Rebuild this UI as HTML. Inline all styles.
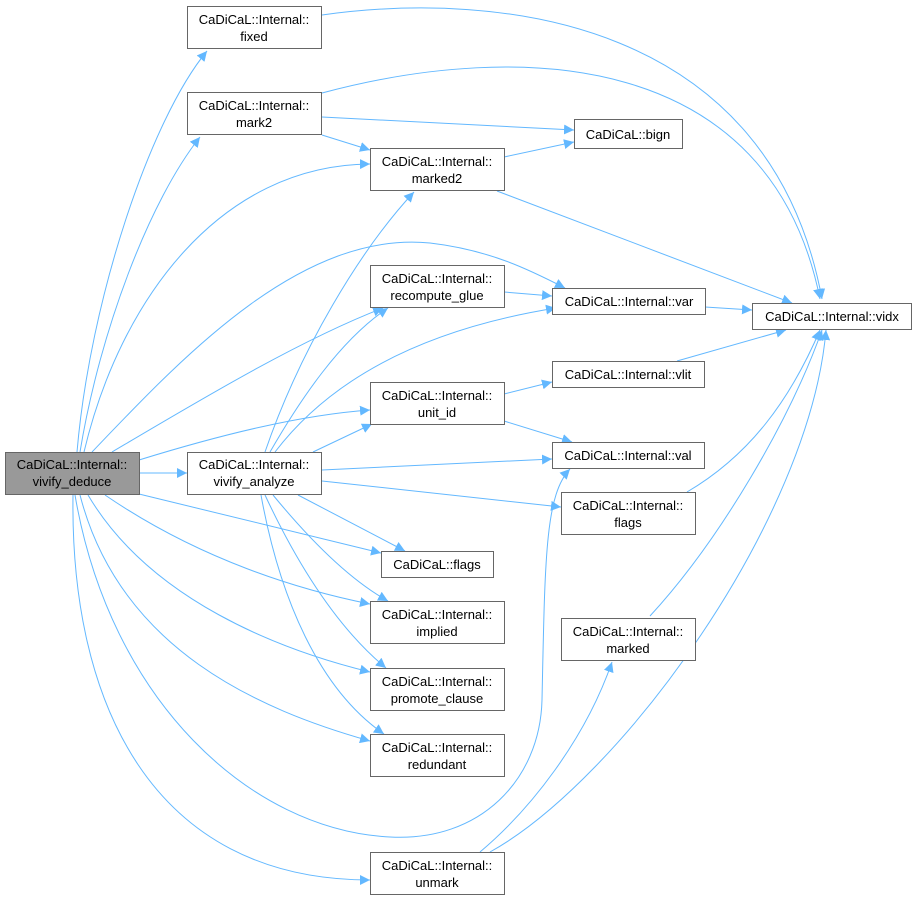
<!DOCTYPE html>
<html><head><meta charset="utf-8"><style>
html,body{margin:0;padding:0;background:#fff;}
svg{display:block}
text{font-family:"Liberation Sans",Helvetica,Arial,sans-serif;font-size:13px;fill:#000;text-anchor:middle}
.n{fill:#fff;stroke:#666;stroke-width:1}
.e{fill:none;stroke:#63b8ff;stroke-width:1;marker-end:url(#a)}
</style></head><body>
<svg width="916" height="900" viewBox="0 0 916 900" xmlns="http://www.w3.org/2000/svg">
<defs><marker id="a" viewBox="0 0 10 10" refX="10" refY="5" markerWidth="10" markerHeight="10" markerUnits="userSpaceOnUse" orient="auto"><path d="M0,0 L10,5 L0,10 z" fill="#63b8ff"/></marker></defs>

<path class="e" d="M77,452 C90,300 150,120 207,51"/>
<path class="e" d="M80,452 C100,330 150,200 200,137"/>
<path class="e" d="M84,452 C120,300 220,165 370,164"/>
<path class="e" d="M92,452 C180,360 300,230 430,243 C490,250 530,270 565,288"/>
<path class="e" d="M112,452 C200,400 300,340 383,308"/>
<path class="e" d="M139,460 C220,435 300,415 370,410"/>
<path class="e" d="M139,473 L187,473"/>
<path class="e" d="M139,494 L381,553"/>
<path class="e" d="M105,495 C200,560 300,590 370,604"/>
<path class="e" d="M88,495 C150,600 280,650 370,672"/>
<path class="e" d="M80,495 C120,650 260,710 370,741"/>
<path class="e" d="M75,495 C110,700 250,830 390,837 C480,842 540,780 542,700 C545,560 545,495 570,469"/>
<path class="e" d="M73,495 C70,700 150,880 370,880"/>

<path class="e" d="M265,452 C300,350 360,250 414,192"/>
<path class="e" d="M270,452 C300,400 340,340 388,308"/>
<path class="e" d="M275,452 C330,380 420,330 556,308"/>
<path class="e" d="M313,452 L372,424"/>
<path class="e" d="M322,470 L552,459"/>
<path class="e" d="M322,481 L561,507"/>
<path class="e" d="M298,495 L405,551"/>
<path class="e" d="M273,495 C310,540 350,580 388,601"/>
<path class="e" d="M265,495 C300,570 340,630 386,668"/>
<path class="e" d="M261,495 C280,600 320,690 384,734"/>

<path class="e" d="M322,15 C500,-10 770,20 822,299"/>
<path class="e" d="M322,93 C520,40 770,50 820,299"/>
<path class="e" d="M322,117 L574,130"/>
<path class="e" d="M322,135 L370,150"/>
<path class="e" d="M504,157 L574,142"/>
<path class="e" d="M497,191 L792,303"/>
<path class="e" d="M504,292 L552,296"/>
<path class="e" d="M705,307 L752,310"/>
<path class="e" d="M504,394 L552,382"/>
<path class="e" d="M504,421 L572,442"/>
<path class="e" d="M677,361 L786,330"/>
<path class="e" d="M687,492 C750,455 790,400 820,330"/>
<path class="e" d="M650,616 C720,540 790,420 822,330"/>
<path class="e" d="M480,852 C530,810 585,740 612,662"/>
<path class="e" d="M490,852 C620,780 810,520 826,330"/>

<rect x="5.5" y="452.5" width="134" height="42" fill="#999" stroke="#666"/>
<text x="72" y="469">CaDiCaL::Internal::</text><text x="72" y="486">vivify_deduce</text>

<rect class="n" x="187.5" y="6.5" width="134" height="42"/>
<text x="254" y="24">CaDiCaL::Internal::</text><text x="254" y="41">fixed</text>

<rect class="n" x="187.5" y="92.5" width="134" height="42"/>
<text x="254" y="110">CaDiCaL::Internal::</text><text x="254" y="127">mark2</text>

<rect class="n" x="370.5" y="148.5" width="134" height="42"/>
<text x="437" y="166">CaDiCaL::Internal::</text><text x="437" y="183">marked2</text>

<rect class="n" x="574.5" y="119.5" width="108" height="29"/>
<text x="628" y="139">CaDiCaL::bign</text>

<rect class="n" x="370.5" y="265.5" width="134" height="42"/>
<text x="437" y="283">CaDiCaL::Internal::</text><text x="437" y="300">recompute_glue</text>

<rect class="n" x="552.5" y="288.5" width="153" height="26"/>
<text x="629" y="306">CaDiCaL::Internal::var</text>

<rect class="n" x="752.5" y="303.5" width="159" height="26"/>
<text x="832" y="321">CaDiCaL::Internal::vidx</text>

<rect class="n" x="370.5" y="382.5" width="134" height="42"/>
<text x="437" y="400">CaDiCaL::Internal::</text><text x="437" y="417">unit_id</text>

<rect class="n" x="552.5" y="361.5" width="152" height="26"/>
<text x="628" y="379">CaDiCaL::Internal::vlit</text>

<rect class="n" x="187.5" y="452.5" width="134" height="42"/>
<text x="254" y="469">CaDiCaL::Internal::</text><text x="254" y="486">vivify_analyze</text>

<rect class="n" x="552.5" y="442.5" width="152" height="26"/>
<text x="628" y="460">CaDiCaL::Internal::val</text>

<rect class="n" x="561.5" y="492.5" width="134" height="42"/>
<text x="628" y="510">CaDiCaL::Internal::</text><text x="628" y="527">flags</text>

<rect class="n" x="381.5" y="551.5" width="112" height="26"/>
<text x="437" y="569">CaDiCaL::flags</text>

<rect class="n" x="370.5" y="601.5" width="134" height="42"/>
<text x="437" y="619">CaDiCaL::Internal::</text><text x="437" y="636">implied</text>

<rect class="n" x="561.5" y="618.5" width="134" height="42"/>
<text x="628" y="636">CaDiCaL::Internal::</text><text x="628" y="653">marked</text>

<rect class="n" x="370.5" y="668.5" width="134" height="42"/>
<text x="437" y="686">CaDiCaL::Internal::</text><text x="437" y="703">promote_clause</text>

<rect class="n" x="370.5" y="734.5" width="134" height="42"/>
<text x="437" y="752">CaDiCaL::Internal::</text><text x="437" y="769">redundant</text>

<rect class="n" x="370.5" y="852.5" width="134" height="42"/>
<text x="437" y="870">CaDiCaL::Internal::</text><text x="437" y="887">unmark</text>
</svg>
</body></html>
